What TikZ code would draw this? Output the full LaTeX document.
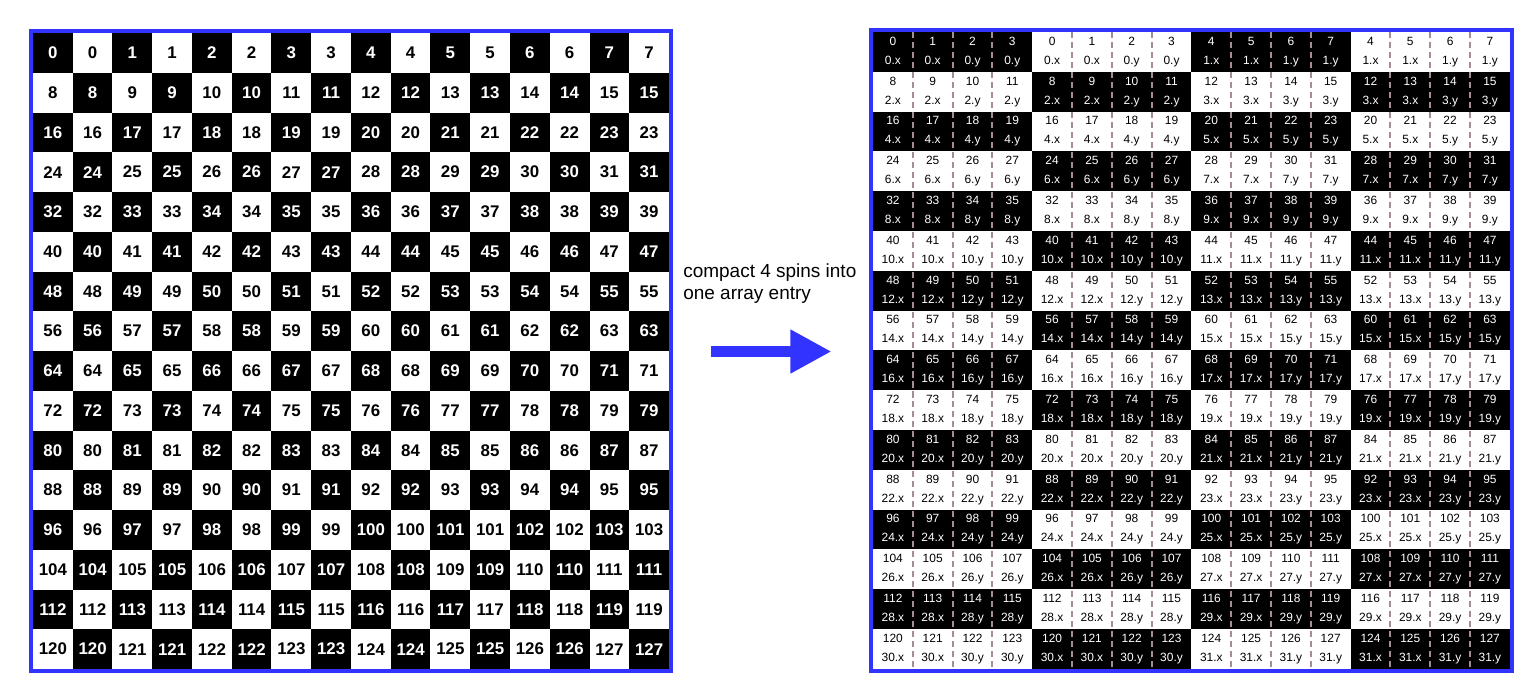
\documentclass[tikz,border=0pt]{standalone}
\usepackage{fontspec}
\setmainfont{Liberation Sans}
\usetikzlibrary{arrows.meta,positioning,calc}
\definecolor{fig-frame}{HTML}{3333FF}
\definecolor{fig-gap}{HTML}{A48C9C}

\begin{document}
\begin{tikzpicture}[
    x=0.025cm, y=-0.025cm,
    spin/.style={minimum size=0.99375cm, inner sep=0pt, outer sep=0pt},
    tone0/.style={fill=black, text=white},
    tone1/.style={fill=white, text=black},
    lcell/.style={spin, font=\fontsize{12}{14}\selectfont\bfseries},
    rcell/.style={spin, align=center, font=\fontsize{8.5}{13.5}\selectfont},
    gridframe/.style={draw=fig-frame, line width=2.85pt},
    gapline/.style={draw=fig-gap, line width=1.4pt, dash pattern=on 4.3pt off 2.8pt},
    flow/.style={-{Triangle[length=1.025cm, width=1.025cm]}, draw=fig-frame, line width=0.275cm},
]
\useasboundingbox (0,0) rectangle (1527,687);

\foreach \r in {0,...,15}{
  \foreach \c in {0,...,15}{
    \pgfmathtruncatemacro\spinid{8*\r+floor(\c/2)}
    \pgfmathtruncatemacro\tn{mod(\r+\c,2)}
    \node[lcell, tone\tn] (L-\r-\c) at ({33+39.75*(\c+0.5)},{33+39.75*(\r+0.5)}) {\spinid};
  }
}

\foreach \r in {0,...,15}{
  \foreach \c in {0,...,15}{
    \pgfmathtruncatemacro\blk{floor(\c/4)}
    \pgfmathtruncatemacro\pos{mod(\c,4)}
    \pgfmathtruncatemacro\spinid{8*\r+4*floor(\blk/2)+\pos}
    \pgfmathtruncatemacro\word{2*\r+floor(\blk/2)}
    \pgfmathtruncatemacro\tn{mod(\r+\blk,2)}
    \node[rcell, tone\tn] (R-\r-\c) at ({873+39.8*(\c+0.5)},{32+39.8*(\r+0.5)})
      {\spinid\\\word.\ifnum\pos<2 x\else y\fi\vphantom{y}};
  }
}

\foreach \c in {1,2,3,5,6,7,9,10,11,13,14,15}
  \draw[gapline] (R-0-\c.north west) -- (R-15-\c.south west);

\draw[gridframe] ($(L-0-0.north west)+(-2,-2)$) rectangle ($(L-15-15.south east)+(2,2)$);
\draw[gridframe] ($(R-0-0.north west)+(-2,-2)$) rectangle ($(R-15-15.south east)+(2,2)$);

\node[font=\fontsize{13.5}{15}\selectfont, align=left, anchor=base west, inner sep=0pt] (note) at (683,299)
    {compact 4 spins into\\one array entry};
\coordinate (arrS) at (711,351.5);
\coordinate (arrE) at (831.5,351.5);
\draw[flow] (arrS) -- (arrE);
\end{tikzpicture}
\end{document}
